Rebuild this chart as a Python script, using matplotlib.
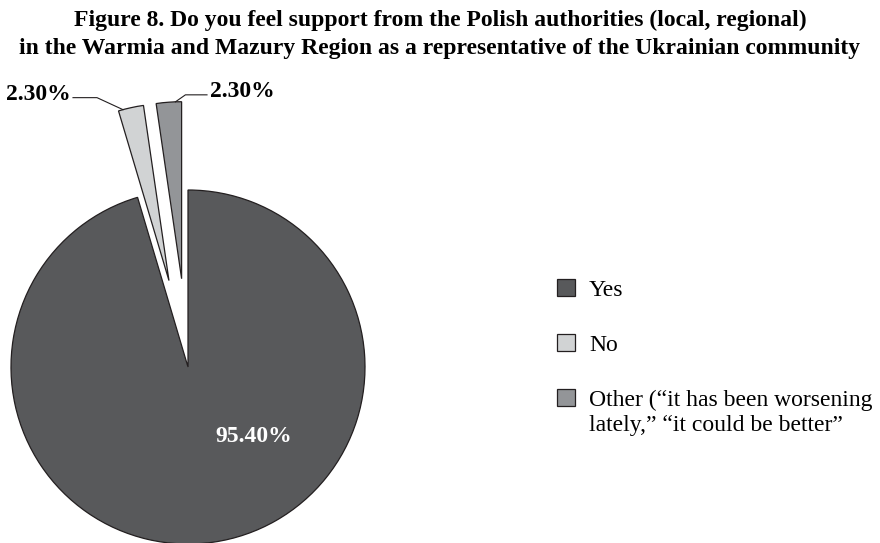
import numpy as np
import matplotlib.pyplot as plt

plt.rcParams['font.family'] = ['Liberation Serif', 'DejaVu Serif']

# Data
labels = ["Yes", "No", "Other (\u201cit has been worsening"]
label_extra = "lately,\u201d \u201cit could be better\u201d"
values = [95.4, 2.3, 2.3]
value_text = ["95.40%", "2.30%", "2.30%"]
colors = ["#58595b", "#d1d3d4", "#939598"]
explode = [0, 0.5, 0.5]  # fraction of radius

title = ("Figure 8. Do you feel support from the Polish authorities (local, regional)\n"
         "in the Warmia and Mazury Region as a representative of the Ukrainian community")

radius = 177

fig = plt.figure(figsize=(8.8, 5.43), dpi=100)
ax = fig.add_axes([0, 0, 1, 1])

wedges, _ = ax.pie(values, colors=colors, explode=[e * radius for e in explode],
                   startangle=90, counterclock=False, center=(188, 176),
                   radius=radius, wedgeprops=dict(edgecolor="#231f20", linewidth=0.9))

ax.set_xlim(0, 880)
ax.set_ylim(0, 543)
ax.set_aspect('equal')
ax.axis('off')


def arc_point(w, ang):
    a = np.deg2rad(ang)
    return w.center[0] + w.r * np.cos(a), w.center[1] + w.r * np.sin(a)


# big label inside "Yes"
cx, cy = wedges[0].center
ax.text(cx + 66, cy - 69, value_text[0], color="white", fontsize=17,
        fontweight="bold", ha="center", va="center")

# "No" label on the left with leader line
px, py = arc_point(wedges[1], wedges[1].theta2 - 1.5)
ax.plot([73, 97, px], [py + 12, py + 12, py], color="#231f20", lw=0.8)
ax.text(71, py + 9.5, value_text[1], fontsize=17, fontweight="bold",
        ha="right", va="baseline")

# "Other" label on the right
px, py = arc_point(wedges[2], wedges[2].theta1 + 2)
ax.plot([px, px + 10, 207], [py, py + 7, py + 7], color="#231f20", lw=0.8)
ax.text(210, py + 4.5, value_text[2], fontsize=17, fontweight="bold",
        ha="left", va="baseline")

fig.text(0.5, 0.982, title, ha="center", va="top", fontsize=17,
         fontweight="bold", linespacing=1.45)

leg = fig.legend(wedges, labels, loc="upper left", bbox_to_anchor=(0.633, 0.486),
                 frameon=False, fontsize=17, handlelength=0.75, handleheight=0.75,
                 handletextpad=0.6, labelspacing=1.4, borderpad=0, borderaxespad=0)

# second line of the last legend entry, placed under its first line
fig.canvas.draw()
bb = leg.get_texts()[2].get_window_extent().transformed(fig.transFigure.inverted())
fig.text(bb.x0, bb.y0 - 4 / 543, label_extra, fontsize=17, ha="left", va="top")

fig.savefig("out.png", dpi=100)
